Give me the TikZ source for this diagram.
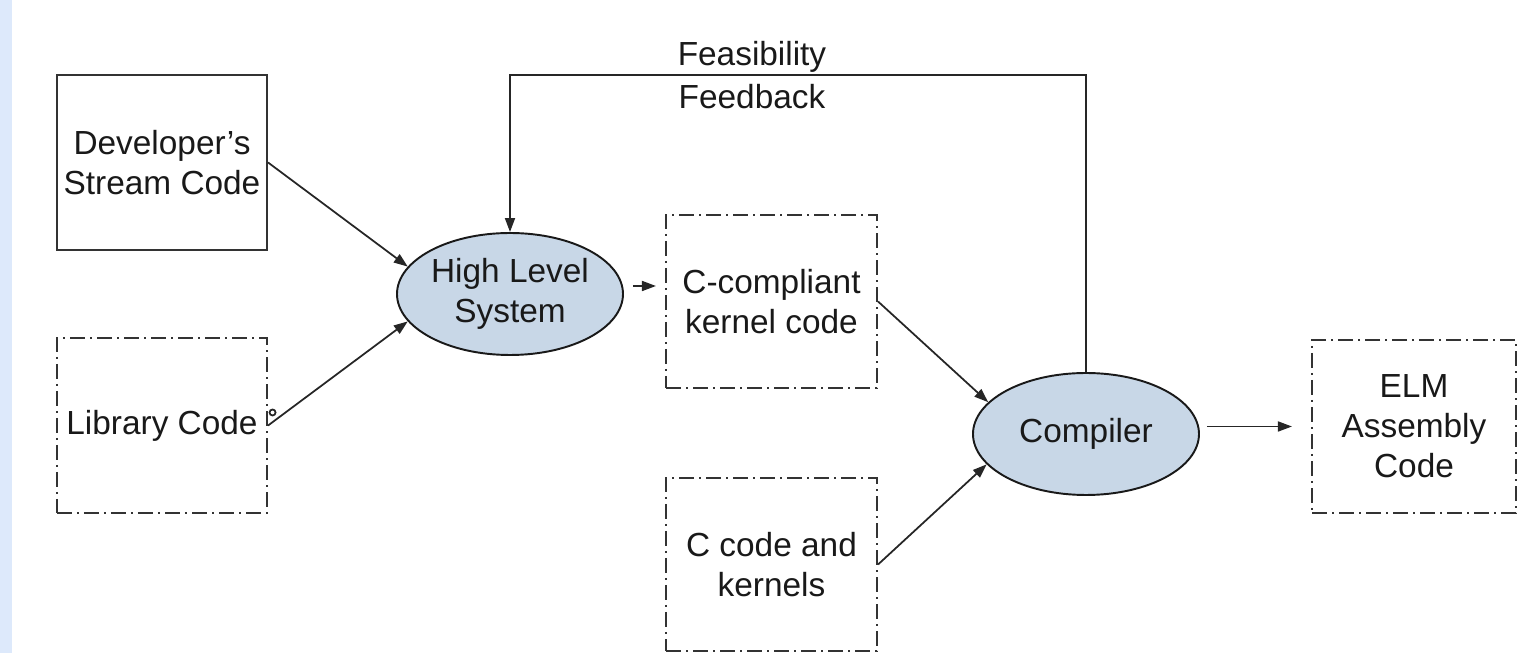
\documentclass[tikz,border=0pt]{standalone}
\usepackage{fontspec}
\setmainfont{Liberation Sans}
\usepackage{tikz}
\usetikzlibrary{shapes.geometric, arrows.meta, positioning}
\usepackage{xcolor}
\definecolor{stagefill}{HTML}{C8D7E7}
\definecolor{sidebar}{HTML}{DDE9FB}

\begin{document}
\begin{tikzpicture}[x=1cm, y=1cm,
		every node/.style={font=\fontsize{9.5}{11.4}\selectfont, text=black!90, align=center},
		>={Triangle[length=0.14cm, width=0.10cm]},
		conn/.style={draw=black!85, line width=0.5pt},
		solidbox/.style={rectangle, draw=black!80, line width=0.6pt, minimum width=2.10cm, minimum height=1.75cm, inner sep=0pt},
		dashbox/.style={solidbox, dash pattern=on 0.15cm off 0.05cm on 0.02cm off 0.05cm},
		stage/.style={ellipse, draw=black!90, line width=0.55pt, fill=stagefill, inner sep=0pt, minimum width=2.26cm, minimum height=1.22cm}]
		\useasboundingbox (0,0) rectangle (15.2,-6.53);
		\fill[sidebar] (0,0) rectangle (0.12,-6.53);
		% inputs
		\node[solidbox] (dev) at (1.62,-1.625) {Developer's\\Stream Code};
		\node[dashbox] (lib) at (1.62,-4.255) {Library Code};
		% stages
		\node[stage] (hls) at (5.10,-2.94) {High Level\\System};
		\node[dashbox, minimum width=2.11cm, minimum height=1.73cm] (ccomp) at (7.715,-3.015) {C-compliant\\kernel code};
		\node[dashbox, minimum width=2.11cm, minimum height=1.73cm] (ccode) at (7.715,-5.645) {C code and\\kernels};
		\node[stage] (comp) at (10.86,-4.34) {Compiler};
		\node[dashbox, minimum width=2.04cm, minimum height=1.73cm] (elm) at (14.14,-4.265) {ELM\\Assembly\\Code};
		% feedback label
		\node[font=\fontsize{9.5}{12.2}\selectfont] (fb) at (7.52,-0.75) {Feasibility\\Feedback};
		% connectors
		\draw[conn, ->] (dev.east) -- (hls.165);
		\draw[conn, ->] (lib.east) -- (hls.195);
		\draw[conn] ([xshift=0.045cm, yshift=0.13cm]lib.east) circle (0.03);
		\draw[conn, ->, shorten <=0.09cm, shorten >=0.09cm] ([yshift=0.08cm]hls.east) -- ([yshift=0.08cm]hls.east -| ccomp.west);
		\draw[conn, ->] (ccomp.east) -- (comp.162);
		\draw[conn, ->] (ccode.east) -- (comp.197);
		\draw[conn, ->, shorten <=0.07cm, shorten >=0.19cm] (comp.east |- elm.west) -- (elm.west);
		\draw[conn, ->] (comp.north) |- (fb.center) -| (hls.north);
	\end{tikzpicture}
\end{document}
